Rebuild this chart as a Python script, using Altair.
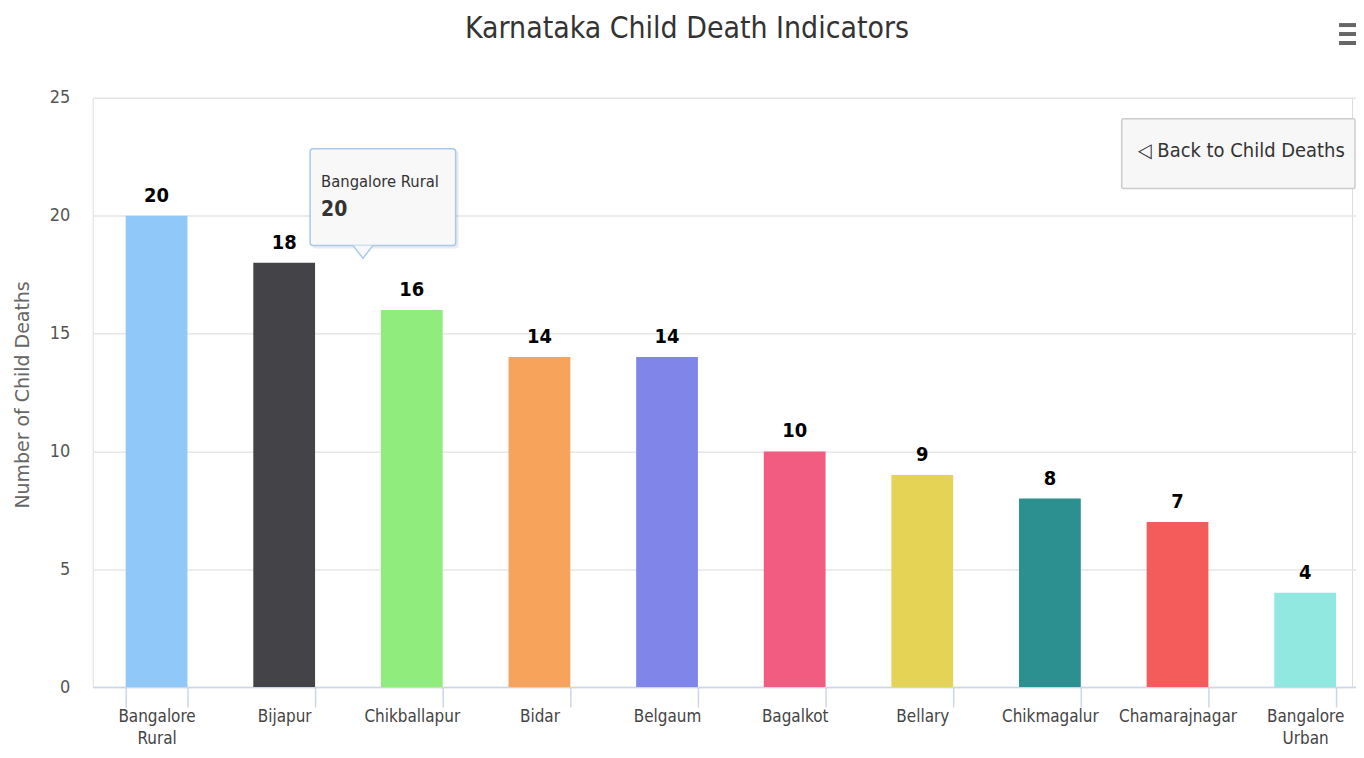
import altair as alt
import pandas as pd

# ---- data ----
districts = ["Bangalore Rural", "Bijapur", "Chikballapur", "Bidar", "Belgaum",
             "Bagalkot", "Bellary", "Chikmagalur", "Chamarajnagar", "Bangalore Urban"]
deaths = [20, 18, 16, 14, 14, 10, 9, 8, 7, 4]
bar_colors = ["#90c8f9", "#434348", "#90ed7d", "#f7a35c", "#8085e9",
              "#f15c80", "#e4d354", "#2b908f", "#f45b5b", "#91e8e1"]
y_ticks = [0, 5, 10, 15, 20, 25]

title_text = "Karnataka Child Death Indicators"
y_title = "Number of Child Deaths"
tooltip_name = "Bangalore Rural"
tooltip_value = "20"
button_text = "\u25c1 Back to Child Deaths"

df = pd.DataFrame({"district": districts, "deaths": deaths})

FONT = "'Liberation Sans Narrow', 'DejaVu Sans Condensed', sans-serif"
W, H = 1263, 591

x_enc = alt.X("district:N", sort=None,
              scale=alt.Scale(range=[0, 1280], paddingInner=0.516, paddingOuter=0.258),
              axis=alt.Axis(title=None, labelAngle=0, labelFont=FONT, labelFontSize=17,
                            labelColor="#444", labelPadding=2, labelLineHeight=22,
                            labelExpr="split(datum.label, ' ')",
                            domainColor="#ccd6eb", domainWidth=1.5,
                            tickColor="#ccd6eb", tickSize=20, tickWidth=1.5,
                            tickBand="extent", grid=False))
y_enc = alt.Y("deaths:Q",
              scale=alt.Scale(domain=[0, 25], nice=False),
              axis=alt.Axis(values=y_ticks, title=y_title, titleFont="DejaVu Sans",
                            titleFontSize=19, titleFontWeight="normal", titleColor="#666",
                            titleX=-70, titleY=H / 2 + 2, titleBaseline="middle",
                            labelFont=FONT, labelFontSize=18, labelColor="#555",
                            labelPadding=23, ticks=False, tickSize=0, domain=False,
                            grid=True, gridColor="#e6e6e6", gridWidth=1.5))

base = alt.Chart(df)
bars = base.mark_bar().encode(
    x=x_enc, y=y_enc,
    color=alt.Color("district:N", sort=None,
                    scale=alt.Scale(domain=districts, range=bar_colors), legend=None),
)
labels = base.mark_text(dy=-10, baseline="bottom", font=FONT, fontSize=20,
                        fontWeight="bold", color="#000").encode(
    x=alt.X("district:N", sort=None), y="deaths:Q", text="deaths:Q")

one = pd.DataFrame({"a": [0]})
deco = alt.Chart(one)

# title
title = deco.mark_text(align="center", baseline="middle", font=FONT, fontSize=30,
                       color="#333").encode(
    x=alt.value(596), y=alt.value(-69), text=alt.value(title_text))

# tooltip
tip_shadow = deco.mark_rect(fill="#000", opacity=0.08, cornerRadius=3).encode(
    x=alt.value(220), x2=alt.value(367), y=alt.value(53), y2=alt.value(151))
tip_box = deco.mark_rect(fill="#f8f8f8", stroke="#a9c9ea", strokeWidth=1.5,
                         cornerRadius=3).encode(
    x=alt.value(218), x2=alt.value(364), y=alt.value(51), y2=alt.value(148))
tip_arrow = deco.mark_point(shape="M -1 -0.65 L 0 0.65 L 1 -0.65", size=400, filled=True,
                            fill="#f8f8f8", stroke="#a9c9ea", strokeWidth=1.5,
                            opacity=1).encode(
    x=alt.value(271), y=alt.value(154.5))
tip_name = deco.mark_text(align="left", baseline="middle", font=FONT, fontSize=16.5,
                          color="#333").encode(
    x=alt.value(229), y=alt.value(84), text=alt.value(tooltip_name))
tip_val = deco.mark_text(align="left", baseline="middle", font=FONT, fontSize=21,
                         fontWeight="bold", color="#333").encode(
    x=alt.value(229), y=alt.value(113), text=alt.value(tooltip_value))

# button
btn_box = deco.mark_rect(fill="#f7f7f7", stroke="#cccccc", strokeWidth=1.5,
                         cornerRadius=2).encode(
    x=alt.value(1032), x2=alt.value(1266), y=alt.value(21), y2=alt.value(91))
btn_text = deco.mark_text(align="center", baseline="middle", font=FONT, fontSize=20,
                          color="#333").encode(
    x=alt.value(1152), y=alt.value(53), text=alt.value(button_text))

# menu icon
menu_layers = [deco.mark_rule(color="#666", strokeWidth=4).encode(
    x=alt.value(1250), x2=alt.value(1275), y=alt.value(yy)) for yy in (-73, -64, -55)]

chart = alt.layer(bars, labels, title, tip_shadow, tip_box, tip_arrow, tip_name, tip_val,
                  btn_box, btn_text, *menu_layers).properties(
    width=W, height=H,
    autosize=alt.AutoSizeParams(type="none"),
    padding={"left": 85, "top": 89, "right": 4, "bottom": 62},
).configure_view(stroke=None).configure(background="white")

chart.save("out.html", embed_options={"renderer": "svg", "actions": False})
